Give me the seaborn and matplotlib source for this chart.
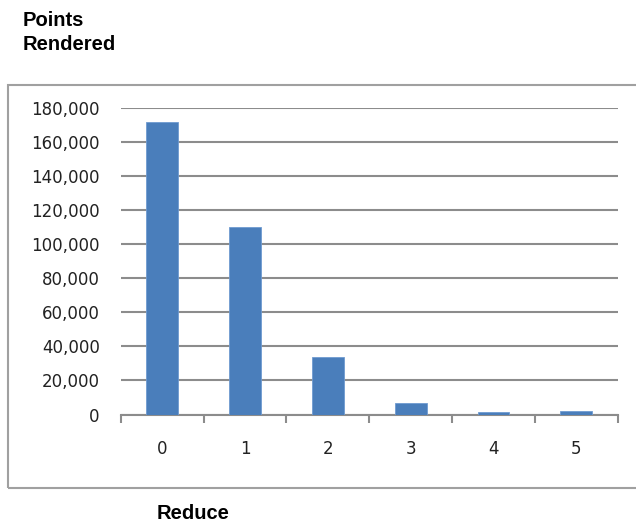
import matplotlib
matplotlib.use("Agg")
import matplotlib.pyplot as plt
from matplotlib.patches import Rectangle
from matplotlib.ticker import FuncFormatter, FixedLocator
import seaborn as sns
import pandas as pd

# Points rendered at each reduce level
reduce_levels = ["0", "1", "2", "3", "4", "5"]
points_rendered = [172000, 110000, 34000, 7000, 1300, 2000]
y_ticks = [0, 20000, 40000, 60000, 80000, 100000, 120000, 140000, 160000, 180000]

df = pd.DataFrame({"Reduce": reduce_levels, "Points": points_rendered})

sns.set_theme(style="white")
plt.rcParams["font.family"] = ["DejaVu Sans"]

W, H = 636, 525
fig = plt.figure(figsize=(W / 100, H / 100), dpi=100)

# plot area in pixel coordinates
x0, x1 = 120.7, 617.7
y_top, y_zero = 108.3, 414.5
ax = fig.add_axes([x0 / W, 1 - y_zero / H, (x1 - x0) / W, (y_zero - y_top) / H])

bar_color = "#4A7EBB"
sns.barplot(data=df, x="Reduce", y="Points", color=bar_color, width=0.385,
            saturation=1, edgecolor="#6f9bd1", linewidth=0.6, ax=ax, zorder=3)

ax.set_xlim(-0.5, 5.5)
ax.set_ylim(0, 180000)
ax.set_xlabel("")
ax.set_ylabel("")

ax.yaxis.set_major_locator(FixedLocator(y_ticks))
ax.yaxis.set_major_formatter(FuncFormatter(lambda v, p: f"{int(v):,}"))
ax.grid(axis="y", color="#8c8c8c", linewidth=1.5, zorder=0)
ax.grid(axis="x", visible=False)

for side in ["left", "right", "top"]:
    ax.spines[side].set_visible(False)
ax.spines["bottom"].set_color("#8c8c8c")
ax.spines["bottom"].set_linewidth(1.5)

# category-boundary tick marks on the x axis
ax.set_xticks([i - 0.5 for i in range(7)], minor=False)
ax.set_xticklabels([])
ax.set_xticks(range(len(reduce_levels)), minor=True)
ax.set_xticklabels(reduce_levels, minor=True)
ax.tick_params(axis="x", which="major", length=6, width=1.5, color="#8c8c8c",
               direction="out", bottom=True)
ax.tick_params(axis="x", which="minor", length=0, pad=18, labelsize=12,
               labelcolor="#222222")
ax.tick_params(axis="y", length=0, pad=15, labelsize=12, labelcolor="#222222")

# outer chart frame
fig.patches.append(Rectangle((7.5 / W, 1 - 487.7 / H), (W - 7.5 + 5) / W,
                             (487.7 - 85) / H, transform=fig.transFigure,
                             fill=False, edgecolor="#a0a0a0", linewidth=1.5,
                             clip_on=False))

title_font = dict(family=["Liberation Sans"], fontweight="bold", fontsize=14.5,
                  color="black")
fig.text(23 / W, 1 - 11 / H, "Points\nRendered", ha="left", va="top",
         linespacing=1.3, **title_font)
fig.text(193 / W, 1 - 525 / H + 2 / H, "Reduce", ha="center", va="bottom",
         **title_font)

fig.savefig("out.png", dpi=100)
